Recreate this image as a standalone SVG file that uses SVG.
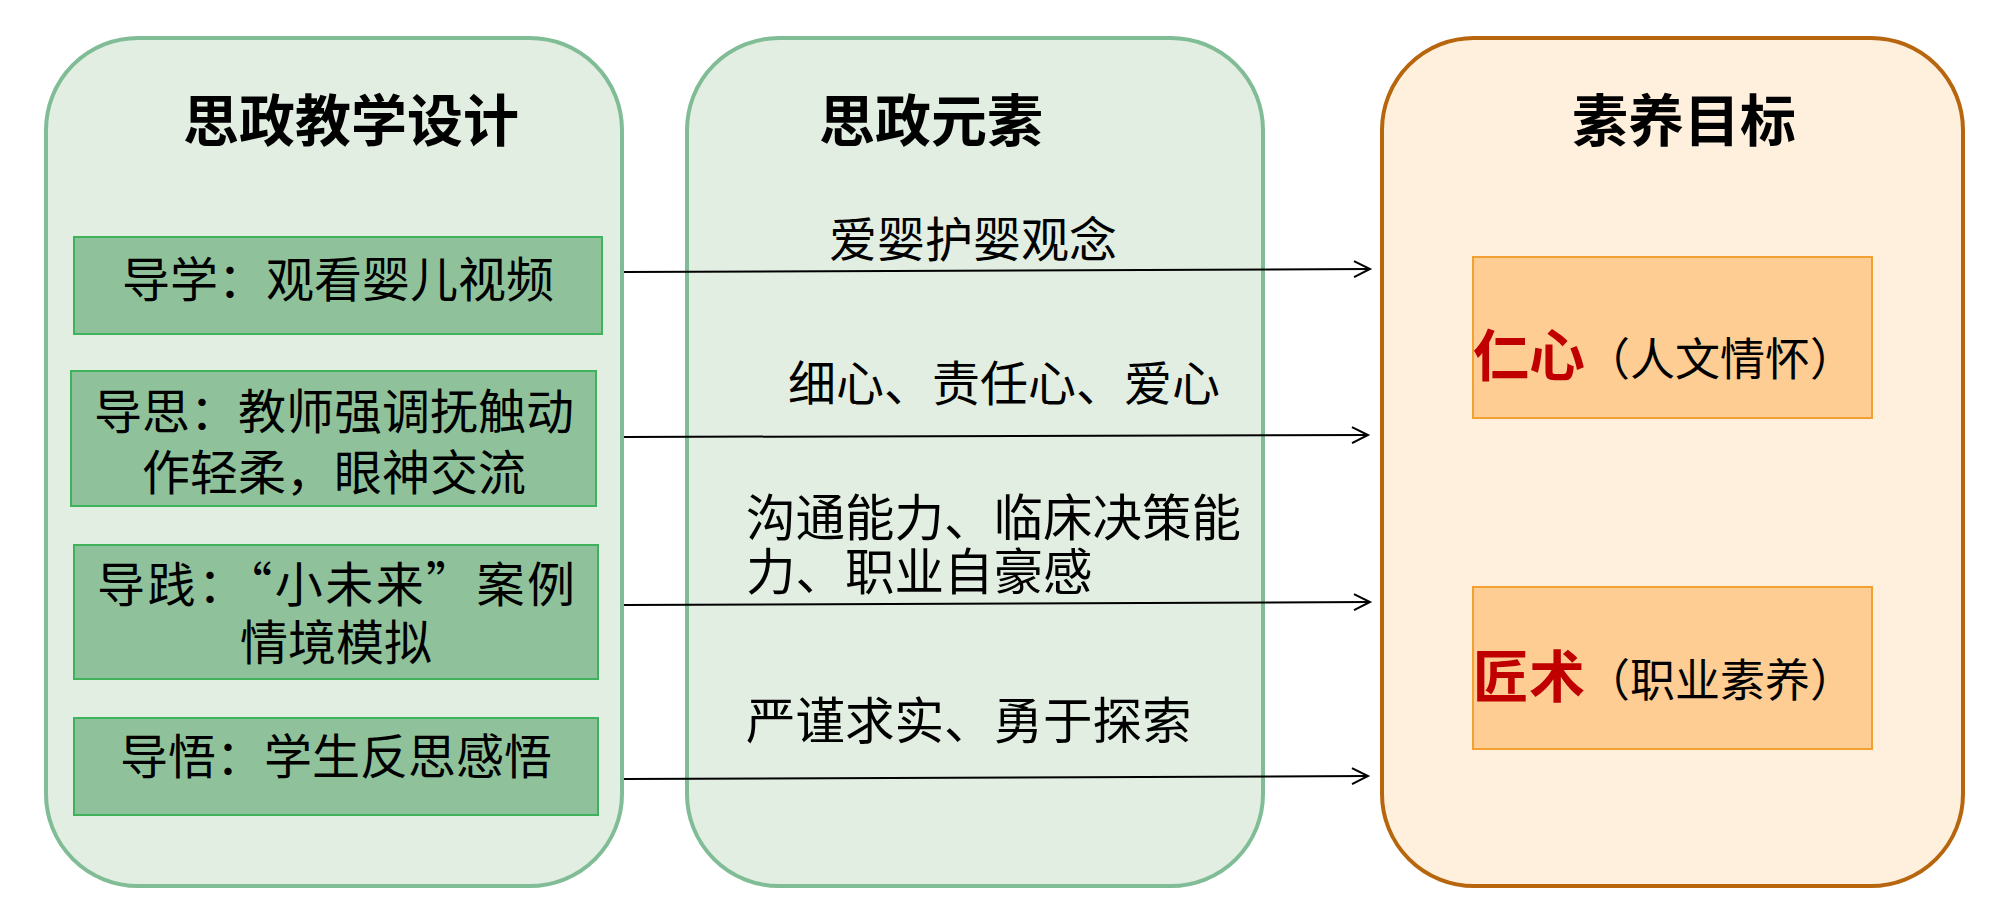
<svg xmlns="http://www.w3.org/2000/svg" width="2000" height="909" viewBox="0 0 2000 909">
<defs>
<style>
.t{font-family:"Noto Sans CJK SC","Noto Sans",sans-serif;fill:#000}
.title{font-size:56px;font-weight:bold;text-anchor:middle}
.sub{font-size:48px;text-anchor:middle}
.mid{font-size:48px}
.mid2{font-size:49.5px}
.gc{fill:#e2eee1;stroke:#80bc95;stroke-width:4}
.oc{fill:#fef0dc;stroke:#b7660e;stroke-width:4}
.gb{fill:#8fc29b;stroke:#3fb35c;stroke-width:2}
.ob{fill:#fdcd94;stroke:#f3a032;stroke-width:2}
.red{fill:#c00000;font-weight:bold;font-size:56px}
.par{font-size:45px}
.conn line{stroke:#000;stroke-width:2;fill:none}
</style>
<marker id="arr" markerWidth="20" markerHeight="20" refX="17" refY="9" orient="auto" markerUnits="userSpaceOnUse">
<polyline points="1,1 17,9 1,17" fill="none" stroke="#000" stroke-width="2"/>
</marker>
</defs>
<rect width="2000" height="909" fill="#fff"/>
<g id="col-design">
<rect class="gc" x="46" y="38" width="576" height="848" rx="92" ry="92"/>
<text class="t title" x="351" y="141">思政教学设计</text>
</g>
<g id="col-elements">
<rect class="gc" x="687" y="38" width="576" height="848" rx="92" ry="92"/>
<text class="t title" x="931" y="141">思政元素</text>
</g>
<g id="col-goals">
<rect class="oc" x="1382" y="38" width="581" height="848" rx="92" ry="92"/>
<text class="t title" x="1684" y="141">素养目标</text>
</g>
<g id="node-daoxue">
<rect class="gb" x="74" y="237" width="528" height="97"/>
<text class="t sub" x="338" y="297">导学：观看婴儿视频</text>
</g>
<g id="node-daosi">
<rect class="gb" x="71" y="371" width="525" height="135"/>
<text class="t sub" x="334" y="429">导思：教师强调抚触动</text>
<text class="t sub" x="334" y="490">作轻柔，眼神交流</text>
</g>
<g id="node-daojian">
<rect class="gb" x="74" y="545" width="524" height="134"/>
<text class="t sub" x="336" y="602" textLength="478" lengthAdjust="spacing">导践：“小未来”案例</text>
<text class="t sub" x="336" y="660">情境模拟</text>
</g>
<g id="node-daowu">
<rect class="gb" x="74" y="718" width="524" height="97"/>
<text class="t sub" x="336" y="774">导悟：学生反思感悟</text>
</g>
<g id="node-renxin">
<rect class="ob" x="1473" y="257" width="399" height="161"/>
<text class="t" x="1473" y="376"><tspan class="red">仁心</tspan><tspan class="par">（人文情怀）</tspan></text>
</g>
<g id="node-jiangshu">
<rect class="ob" x="1473" y="587" width="399" height="162"/>
<text class="t" x="1473" y="697"><tspan class="red">匠术</tspan><tspan class="par">（职业素养）</tspan></text>
</g>
<g id="connectors" class="conn">
<line x1="624" y1="272" x2="1370" y2="269" marker-end="url(#arr)"/>
<line x1="624" y1="437" x2="1368" y2="435" marker-end="url(#arr)"/>
<line x1="624" y1="605" x2="1370" y2="602" marker-end="url(#arr)"/>
<line x1="624" y1="779" x2="1368" y2="776" marker-end="url(#arr)"/>
</g>
<g id="labels">
<text class="t mid" x="829" y="257">爱婴护婴观念</text>
<text class="t mid" x="788" y="401">细心、责任心、爱心</text>
<text class="t mid2" x="746" y="536">沟通能力、临床决策能</text>
<text class="t mid2" x="746" y="590">力、职业自豪感</text>
<text class="t mid2" x="746" y="739">严谨求实、勇于探索</text>
</g>
</svg>
